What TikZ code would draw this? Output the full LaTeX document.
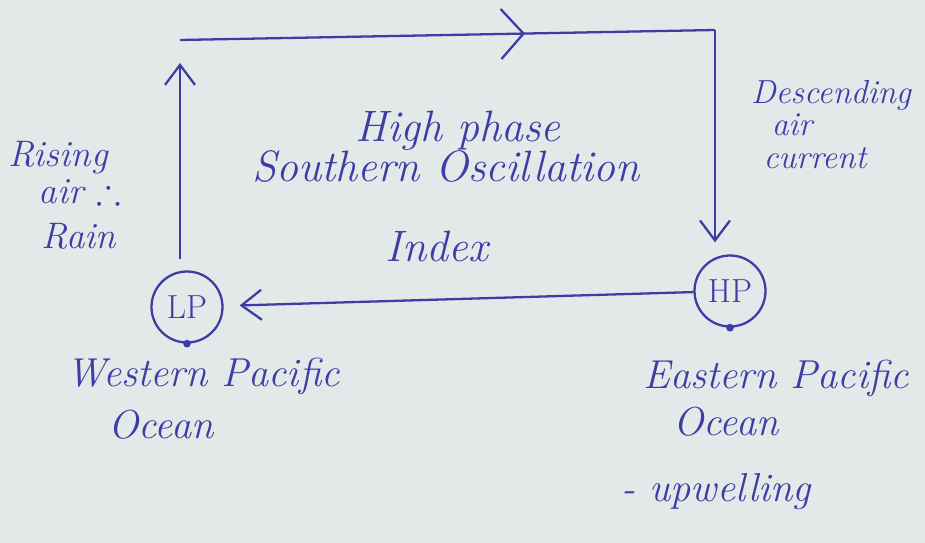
\documentclass[tikz,border=0pt]{standalone}
\usepackage{fontspec}
\usepackage{amssymb}
\usepackage{tikz}
\usetikzlibrary{arrows.meta, decorations.markings}
\definecolor{ink}{RGB}{62,60,165}
\definecolor{paper}{RGB}{227,233,233}
\tikzstyle{line} = [draw, ink, line width=1.3pt, -{Straight Barb[length=0.4cm, width=0.6cm]}]
\tikzstyle{flow} = [draw, ink, line width=1.3pt, postaction={decorate}, decoration={markings, mark=at position 0.645 with {\arrow{Straight Barb[length=0.45cm, width=1cm]}}}]
\tikzstyle{pressure} = [draw, ink, circle, line width=1.3pt, minimum size=1.42cm, inner sep=0pt, font=\fontsize{19}{19}\selectfont]
\tikzstyle{note} = [ink, inner sep=0pt, text height=0.5cm, text depth=0.15cm, font=\fontsize{23}{23}\selectfont\itshape]
\tikzstyle{small} = [note, text height=0.42cm, text depth=0.12cm, font=\fontsize{19}{19}\selectfont\itshape]

\begin{document}
\begin{tikzpicture}
	\fill [paper] (0,0) rectangle (18.5,-10.86);
	
	\node [pressure] (lp) at (3.74,-6.14) {LP};
	\node [pressure] (hp) at (14.6,-5.82) {HP};
	\coordinate (tl) at (3.6,-0.8);
	\coordinate (tr) at (14.3,-0.6);
	\fill [ink] (lp.south) circle (2.2pt);
	\fill [ink] (hp.south) circle (2.2pt);
	
	\path [line, shorten <=0.22cm, shorten >=0.46cm] (lp.north -| tl) -- (tl);
	\path [flow] (tl) -- (tr);
	\path [line, shorten >=0.24cm] (tr) -- (tr |- hp.north);
	\path [line, shorten >=0.32cm] (hp) -- (lp);
	
	\node [note, font=\fontsize{25}{25}\selectfont\itshape] (soi) at (8.92,-3.46) {Southern Oscillation};
	\node [note, font=\fontsize{25}{25}\selectfont\itshape, above of = soi, node distance = 0.8cm, xshift = 0.24cm] (high) {High phase};
	\node [note, font=\fontsize{25}{25}\selectfont\itshape, below of = soi, node distance = 1.6cm, xshift = -0.18cm] (index) {Index};
	
	\node [note, font=\fontsize{21}{21}\selectfont\itshape] (air) at (1.6,-3.9) {air $\therefore$};
	\node [note, font=\fontsize{21}{21}\selectfont\itshape, above of = air, node distance = 0.74cm, xshift = -0.44cm] (rising) {Rising};
	\node [note, font=\fontsize{21}{21}\selectfont\itshape, below of = air, node distance = 0.9cm, xshift = -0.02cm] (rain) {Rain};
	
	\node [small] (down) at (15.84,-2.56) {air};
	\node [small, above of = down, node distance = 0.64cm, xshift = 0.78cm] (desc) {Descending};
	\node [small, below of = down, node distance = 0.66cm, xshift = 0.46cm] (current) {current};
	
	\node [note, below of = lp, node distance = 1.42cm, xshift = 0.32cm] (west) {Western Pacific};
	\node [note, below of = west, node distance = 1.04cm, xshift = -0.84cm] (wocean) {Ocean};
	
	\node [note, below of = hp, node distance = 1.78cm, xshift = 0.92cm] (east) {Eastern Pacific};
	\node [note, below of = east, node distance = 0.94cm, xshift = -1.0cm] (eocean) {Ocean};
	\node [note, below of = eocean, node distance = 1.32cm, xshift = -0.2cm] (upw) {- upwelling};
\end{tikzpicture}
\end{document}
